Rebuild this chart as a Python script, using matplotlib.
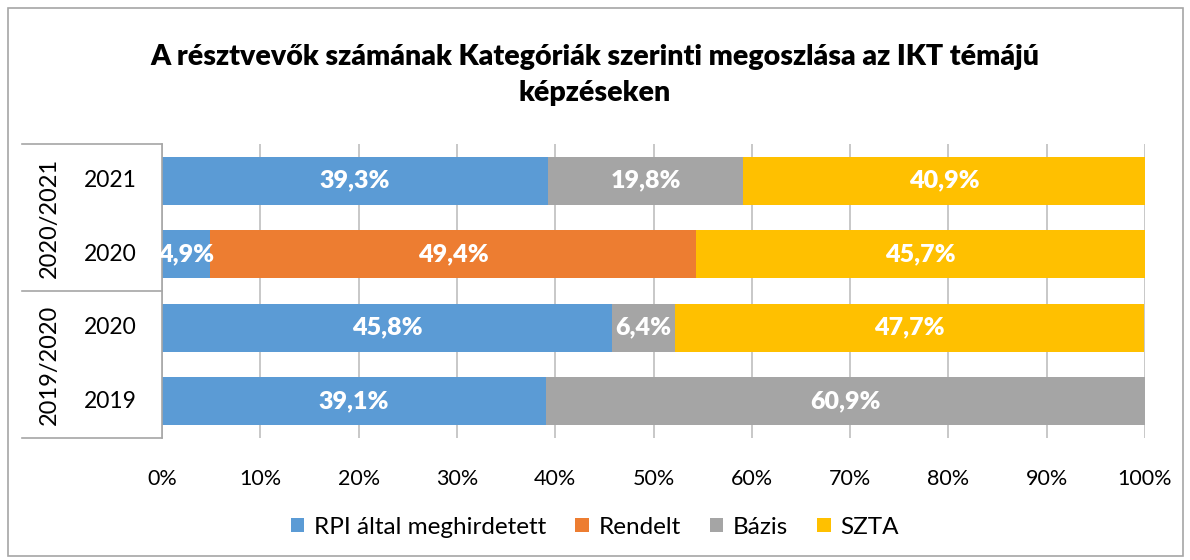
import numpy as np
import matplotlib.pyplot as plt
from matplotlib.lines import Line2D
from matplotlib.patches import Rectangle

plt.rcParams['font.family'] = ['Lato', 'DejaVu Sans']

# rows from top to bottom
groups = ['2020/2021', '2019/2020']
years = ['2021', '2020', '2020', '2019']
series = ['RPI által meghirdetett', 'Rendelt', 'Bázis', 'SZTA']
rpi = [39.3, 4.9, 45.8, 39.1]
rendelt = [0.0, 49.4, 0.0, 0.0]
bazis = [19.8, 0.0, 6.4, 60.9]
szta = [40.9, 45.7, 47.7, 0.0]
colors = ['#5B9BD5', '#ED7D31', '#A5A5A5', '#FFC000']

W, H = 1190, 560
fig = plt.figure(figsize=(W / 100, H / 100), dpi=100)
fig.patch.set_facecolor('white')

# axes in pixel coords
x0, x1, ytop, ybot = 162, 1145, 144, 438
ax = fig.add_axes([x0 / W, (H - ybot) / H, (x1 - x0) / W, (ybot - ytop) / H])

ypos = np.arange(len(years))
left = np.zeros(len(years))
for name, vals, c in zip(series, [rpi, rendelt, bazis, szta], colors):
    vals = np.array(vals)
    bars = ax.barh(ypos, vals, left=left, height=0.65, color=c, label=name)
    for b, v, l in zip(bars, vals, left):
        if v > 0:
            ax.text(l + v / 2, b.get_y() + b.get_height() / 2,
                    f'{v:.1f}%'.replace('.', ','), ha='center', va='center',
                    color='white', fontsize=18, fontweight='heavy')
    left += vals

ax.set_xlim(0, 100)
ax.set_ylim(len(years) - 0.5, -0.5)
ax.set_xticks(np.arange(0, 101, 10))
ax.set_xticklabels([f'{t}%' for t in range(0, 101, 10)], fontsize=15.5)
ax.tick_params(axis='x', length=0, pad=22)
ax.set_yticks([])
ax.grid(axis='x', color='#BFBFBF', linewidth=1.2)
ax.set_axisbelow(True)
for s in ['top', 'right', 'bottom']:
    ax.spines[s].set_visible(False)
ax.spines['left'].set_color('#A6A6A6')
ax.spines['left'].set_linewidth(1.2)

# category table on the left
def fx(px):
    return px / W

def fy(py):
    return (H - py) / H

for py in [ytop, 291, ybot]:
    fig.add_artist(Line2D([fx(22), fx(x0)], [fy(py), fy(py)], color='#A6A6A6', lw=1.2))

row_h = (ybot - ytop) / len(years)
for i, yr in enumerate(years):
    fig.text(fx(137), fy(ytop + row_h * (i + 0.5)), yr, ha='right', va='center', fontsize=16.5)
for j, g in enumerate(groups):
    fig.text(fx(49), fy(ytop + row_h * (2 * j + 1)), g, rotation=90,
             ha='center', va='center', fontsize=17)

fig.text(0.5, fy(75), 'A résztvevők számának Kategóriák szerinti megoszlása az IKT témájú\nképzéseken',
         ha='center', va='center', fontsize=20.5, fontweight='heavy', linespacing=1.45)

fig.legend(loc='center', bbox_to_anchor=(0.5, fy(527)), ncol=4, frameon=False,
           fontsize=17.5, handlelength=0.55, handleheight=0.55, handletextpad=0.4,
           columnspacing=1.2)

fig.add_artist(Rectangle((fx(8), fy(556)), fx(1175), 548 / H, fill=False,
                         edgecolor='#A6A6A6', lw=1.2, transform=fig.transFigure))

fig.savefig('out.png', dpi=100)
